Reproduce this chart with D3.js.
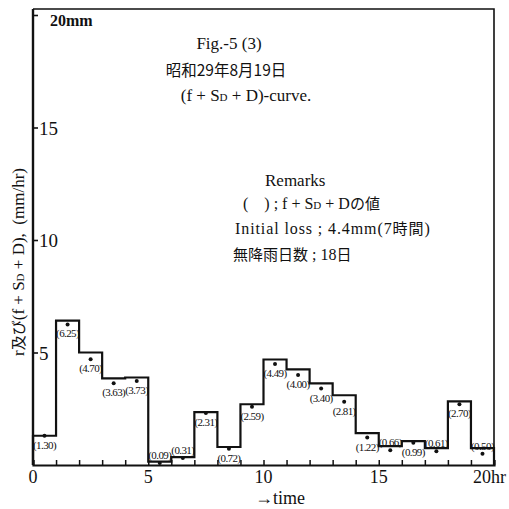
<!DOCTYPE html>
<html><head><meta charset="utf-8">
<script src="https://cdn.jsdelivr.net/npm/d3@7"></script>
<style>
html,body{margin:0;padding:0;background:#fff;}
svg{display:block;}
text{font-family:"Liberation Serif","DejaVu Serif",serif;fill:#111;white-space:pre;}
.jp{font-family:"Noto Sans CJK JP","Liberation Serif",serif;}
</style></head>
<body>
<script>
// ---- data ----
const hours = [0,1,2,3,4,5,6,7,8,9,10,11,12,13,14,15,16,17,18,19];
const rainfall = [1.30,6.42,5.00,3.85,3.89,0.15,0.35,2.35,0.80,2.70,4.69,4.25,3.63,3.10,1.42,0.84,1.06,0.75,2.83,0.75];
const fsdValues = [1.30,6.25,4.70,3.63,3.73,0.09,0.31,2.31,0.72,2.59,4.49,4.00,3.40,2.81,1.22,0.66,0.99,0.61,2.70,0.50];
const fsdLabels = ["(1.30)","(6.25)","(4.70)","(3.63)","(3.73)","(0.09)","(0.31)","(2.31)","(0.72)","(2.59)","(4.49)","(4.00)","(3.40)","(2.81)","(1.22)","(0.66)","(0.99)","(0.61)","(2.70)","(0.50)"];
const xTicks = [0,5,10,15,20];
const xTickLabels = ["0","5","10","15","20hr"];
const yTicks = [5,10,15,20];
const yTickLabels = ["5","10","15","20mm"];

const W = 509, H = 509;
const svg = d3.select("body").append("svg").attr("width",W).attr("height",H);
const x = d3.scaleLinear().domain([0,20]).range([33,494]);
const y = d3.scaleLinear().domain([0,20]).range([465,15]);

// frame (top & right)
svg.append("path")
  .attr("d",`M${x(0)},9 L${x(20)},9 L${x(20)},${y(0)}`)
  .attr("fill","none").attr("stroke","#111").attr("stroke-width",1.6);

// step outline of rainfall
const pts = [[0,0]].concat(hours.map((h,i)=>[h,rainfall[i]]), [[20,rainfall[rainfall.length-1]],[20,0]]);
const step = d3.line().x(d=>x(d[0])).y(d=>y(d[1])).curve(d3.curveStepAfter);
svg.append("path").attr("d",step(pts)).attr("fill","none").attr("stroke","#111").attr("stroke-width",2.2);

// x axis
const xAxis = d3.axisBottom(x).tickValues(d3.range(0,21)).tickSize(-5).tickFormat("");
const gx = svg.append("g").attr("transform",`translate(0,${y(0)})`).call(xAxis);
gx.select(".domain").attr("stroke","#111").attr("stroke-width",2.2);
gx.selectAll(".tick line").attr("stroke","#111").attr("stroke-width",1.5);
svg.append("g").selectAll("text").data(xTicks).join("text")
  .attr("x",(d,i)=>i===4?473:x(d)).attr("y",483).attr("text-anchor",(d,i)=>i===4?"start":"middle")
  .style("font-size","18px").text((d,i)=>xTickLabels[i]);

// y axis
const yAxis = d3.axisRight(y).tickValues(yTicks).tickSize(5).tickFormat("");
const gy = svg.append("g").attr("transform",`translate(${x(0)},0)`).call(yAxis);
gy.select(".domain").attr("d",`M0,9 V${y(0)}`).attr("stroke","#111").attr("stroke-width",2.4);
gy.selectAll(".tick line").attr("stroke","#111").attr("stroke-width",1.6);
svg.append("g").selectAll("text").data(yTicks).join("text")
  .attr("x",x(0)+6).attr("y",d=>y(d)+7)
  .attr("dx",(d,i)=>i===3?11:0).attr("dy",(d,i)=>i===3?4:0)
  .style("font-size",(d,i)=>i===3?"16px":"19px").style("font-weight",(d,i)=>i===3?"bold":"normal")
  .text((d,i)=>yTickLabels[i]);

// dots
svg.append("g").selectAll("circle").data(hours).join("circle")
  .attr("cx",d=>x(d+0.5)).attr("cy",(d,i)=>y(fsdValues[i])).attr("r",2).attr("fill","#111");

// labels
svg.append("g").selectAll("text").data(hours).join("text")
  .attr("x",d=>x(d+0.5)).attr("y",(d,i)=>{let ly=y(fsdValues[i])+13; return ly>463?y(fsdValues[i])-4:ly;})
  .attr("text-anchor","middle").style("font-size","11px").style("letter-spacing","-0.6px")
  .text((d,i)=>fsdLabels[i]);

// titles
svg.append("text").attr("x",229).attr("y",49).attr("text-anchor","middle").style("font-size","17px").text("Fig.-5 (3)");
svg.append("text").attr("class","jp").attr("x",226).attr("y",76).attr("text-anchor","middle").style("font-size","15.5px").text("昭和29年8月19日");
const t3 = svg.append("text").attr("x",246).attr("y",101).attr("text-anchor","middle").style("font-size","17px");
t3.append("tspan").text("(f + S");
t3.append("tspan").style("font-size","11px").text("D");
t3.append("tspan").text(" + D)-curve.");

// remarks
svg.append("text").attr("x",265).attr("y",186).style("font-size","17px").text("Remarks");
const r2 = svg.append("text").attr("x",243).attr("y",209).style("font-size","16px");
r2.append("tspan").text("(\u00a0\u00a0\u00a0\u00a0) ; f + S");
r2.append("tspan").style("font-size","11px").text("D");
r2.append("tspan").text(" + D");
r2.append("tspan").attr("class","jp").style("font-size","15px").text("の値");
const r3 = svg.append("text").attr("x",235).attr("y",234).style("font-size","16px").style("letter-spacing","0.9px");
r3.append("tspan").text("Initial loss ; 4.4mm(7");
r3.append("tspan").attr("class","jp").style("font-size","15px").text("時間");
r3.append("tspan").text(")");
const r4 = svg.append("text").attr("x",233).attr("y",260).style("font-size","16px");
r4.append("tspan").attr("class","jp").style("font-size","15px").text("無降雨日数");
r4.append("tspan").text(" ; 18");
r4.append("tspan").attr("class","jp").style("font-size","15px").text("日");

// axis titles
svg.append("text").attr("x",280).attr("y",504).attr("text-anchor","middle").style("font-size","18px").text("→time");
const yt = svg.append("text").attr("transform","translate(24,262) rotate(-90)").attr("text-anchor","middle").style("font-size","17px");
yt.append("tspan").text("r");
yt.append("tspan").attr("class","jp").style("font-size","15px").text("及び");
yt.append("tspan").text("(f + S");
yt.append("tspan").style("font-size","11px").text("D");
yt.append("tspan").text(" + D),  (mm/hr)");
</script>
</body></html>
